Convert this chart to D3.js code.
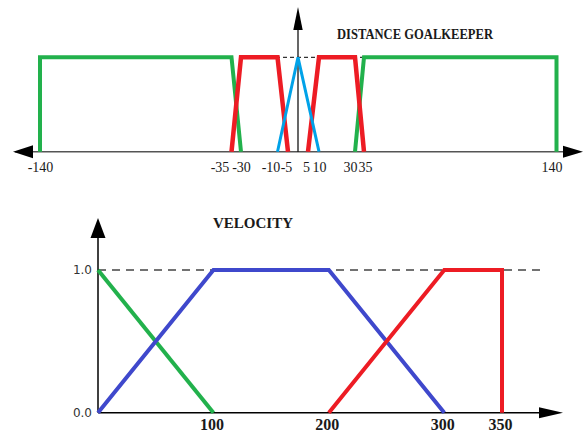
<!DOCTYPE html>
<html>
<head>
<meta charset="utf-8">
<script src="https://cdn.jsdelivr.net/npm/d3@7"></script>
<style>
  body { margin: 0; background: #fff; }
  svg { display: block; }
</style>
</head>
<body>
<svg width="584" height="432"></svg>
<script>
// distance to goalkeeper - membership functions
var distBreaks = [-140, -35, -30, -10, -5, 0, 5, 10, 30, 35, 140];
var distTicks = [-140, -35, -30, -10, -5, 5, 10, 30, 35, 140];
var distFarLeft = [[-140, 0], [-140, 1], [-35, 1], [-30, 0]];
var distMidLeft = [[-35, 0], [-30, 1], [-10, 1], [-5, 0]];
var distNear = [[-10, 0], [0, 1], [10, 0]];
var distMidRight = [[5, 0], [10, 1], [30, 1], [35, 0]];
var distFarRight = [[30, 0], [35, 1], [140, 1], [140, 0]];
var distDash = [[-30, 1], [35, 1]];

// velocity - membership functions
var velTicks = [100, 200, 300, 350];
var velYTicks = [0, 1];
var velSlow = [[0, 1], [100, 0]];
var velMedium = [[0, 0], [100, 1], [200, 1], [300, 0]];
var velFast = [[200, 0], [300, 1], [350, 1], [350, 0]];
var velDash = [[0, 1], [385, 1]];

var green = "#22b14c", red = "#ed1c24", lightBlue = "#00a2e8", blue = "#3f48cc";

var svg = d3.select("svg");
svg.append("rect").attr("width", 584).attr("height", 432).attr("fill", "#fff");

// label nudges (the original labels sit a little off their ticks)
var distNudge = {"-140": 0, "-35": -12, "-30": 0, "-10": -7, "-5": -2, "5": -2, "10": 0, "30": -5, "35": 1, "140": -5};

function arrow(g, x, y, dir, len, half, color) {
  var p = d3.path();
  if (dir == "left") { p.moveTo(x, y); p.lineTo(x + len, y - half); p.lineTo(x + len, y + half); }
  if (dir == "right") { p.moveTo(x, y); p.lineTo(x - len, y - half); p.lineTo(x - len, y + half); }
  if (dir == "up") { p.moveTo(x, y); p.lineTo(x - half, y + len); p.lineTo(x + half, y + len); }
  p.closePath();
  g.append("path").attr("d", p.toString()).attr("fill", color || "#000");
}

// ---------- top chart ----------
var x0 = d3.scaleLinear()
  .domain(distBreaks)
  .range([40, 231.5, 241, 277.5, 288, 298, 308, 319, 355, 364, 556.5]);
var y0 = d3.scaleLinear().domain([0, 1]).range([151.7, 57.3]);

var upper = svg.append("g");
var line0 = d3.line()
  .x(function(d) { return x0(d[0]); })
  .y(function(d) { return y0(d[1]); });

upper.append("path")
  .datum(distDash)
  .attr("fill", "none")
  .attr("stroke", "#000")
  .attr("stroke-width", 1)
  .attr("stroke-dasharray", "4,3")
  .attr("d", line0);

// x axis with arrows both ends
upper.append("line")
  .attr("x1", 15).attr("x2", 570)
  .attr("y1", y0(0)).attr("y2", y0(0))
  .attr("stroke", "#555").attr("stroke-width", 1.5);
arrow(upper, 13, y0(0), "left", 20, 6.5);
arrow(upper, 583, y0(0), "right", 20, 6);

// y axis
upper.append("line")
  .attr("x1", x0(0)).attr("x2", x0(0))
  .attr("y1", y0(0)).attr("y2", 25)
  .attr("stroke", "#000").attr("stroke-width", 1.2);
arrow(upper, x0(0), 7, "up", 23, 4.7);

[[distFarLeft, green, 4], [distFarRight, green, 4], [distMidLeft, red, 4.5],
 [distMidRight, red, 4.5], [distNear, lightBlue, 3]].forEach(function(s) {
  upper.append("path")
    .datum(s[0])
    .attr("fill", "none")
    .attr("stroke", s[1])
    .attr("stroke-width", s[2])
    .attr("stroke-linejoin", "miter")
    .attr("d", line0);
});

var ax0 = upper.append("g")
  .attr("transform", "translate(0," + y0(0) + ")")
  .call(d3.axisBottom(x0).tickValues(distTicks).tickSize(0).tickFormat(function(d) { return String(d); }));
ax0.select(".domain").remove();
ax0.selectAll("text")
  .attr("y", 20)
  .attr("dy", null)
  .attr("dx", function(d) { return distNudge[d]; })
  .attr("fill", "#1a1a1a")
  .style("font-family", "'Liberation Serif', 'Times New Roman', serif")
  .style("font-size", "14px");

upper.append("text")
  .attr("x", 337)
  .attr("y", 39)
  .attr("textLength", 156)
  .attr("lengthAdjust", "spacingAndGlyphs")
  .style("font-family", "'Liberation Serif', 'Times New Roman', serif")
  .style("font-weight", "bold")
  .style("font-size", "14px")
  .attr("fill", "#1a1a1a")
  .text("DISTANCE GOALKEEPER");

// ---------- bottom chart ----------
var x1 = d3.scaleLinear().domain([0, 350]).range([98, 502]);
var y1 = d3.scaleLinear().domain([0, 1]).range([412.7, 270]);

var lower = svg.append("g");
var line1 = d3.line()
  .x(function(d) { return x1(d[0]); })
  .y(function(d) { return y1(d[1]); });

lower.append("path")
  .datum(velDash)
  .attr("fill", "none")
  .attr("stroke", "#444")
  .attr("stroke-width", 1.5)
  .attr("stroke-dasharray", "8,6")
  .attr("d", line1);

lower.append("line")
  .attr("x1", x1(0)).attr("x2", 545)
  .attr("y1", y1(0)).attr("y2", y1(0))
  .attr("stroke", "#000").attr("stroke-width", 1.5);
arrow(lower, 563, y1(0), "right", 24, 5.5);

lower.append("line")
  .attr("x1", x1(0)).attr("x2", x1(0))
  .attr("y1", y1(0)).attr("y2", 235)
  .attr("stroke", "#000").attr("stroke-width", 1.5);
arrow(lower, x1(0), 218, "up", 20, 7.5);

[[velSlow, green], [velMedium, blue], [velFast, red]].forEach(function(s) {
  lower.append("path")
    .datum(s[0])
    .attr("fill", "none")
    .attr("stroke", s[1])
    .attr("stroke-width", 4)
    .attr("stroke-linejoin", "miter")
    .attr("d", line1);
});

var ax1 = lower.append("g")
  .attr("transform", "translate(0," + y1(0) + ")")
  .call(d3.axisBottom(x1).tickValues(velTicks).tickSize(0).tickFormat(d3.format("d")));
ax1.select(".domain").remove();
ax1.selectAll("text")
  .attr("y", 17.5)
  .attr("dy", null)
  .attr("dx", -2)
  .attr("fill", "#1a1a1a")
  .style("font-family", "'Liberation Serif', 'Times New Roman', serif")
  .style("font-weight", "bold")
  .style("font-size", "16px");

var ay1 = lower.append("g")
  .attr("transform", "translate(" + x1(0) + ",0)")
  .call(d3.axisLeft(y1).tickValues(velYTicks).tickSize(0).tickPadding(6).tickFormat(d3.format(".1f")));
ay1.select(".domain").remove();
ay1.selectAll("text")
  .attr("fill", "#333")
  .style("font-family", "'DejaVu Sans', Verdana, sans-serif")
  .style("font-size", "12px");

lower.append("text")
  .attr("x", 213)
  .attr("y", 228)
  .style("font-family", "'Liberation Serif', 'Times New Roman', serif")
  .style("font-weight", "bold")
  .style("font-size", "15px")
  .attr("fill", "#1a1a1a")
  .text("VELOCITY");
</script>
</body>
</html>
